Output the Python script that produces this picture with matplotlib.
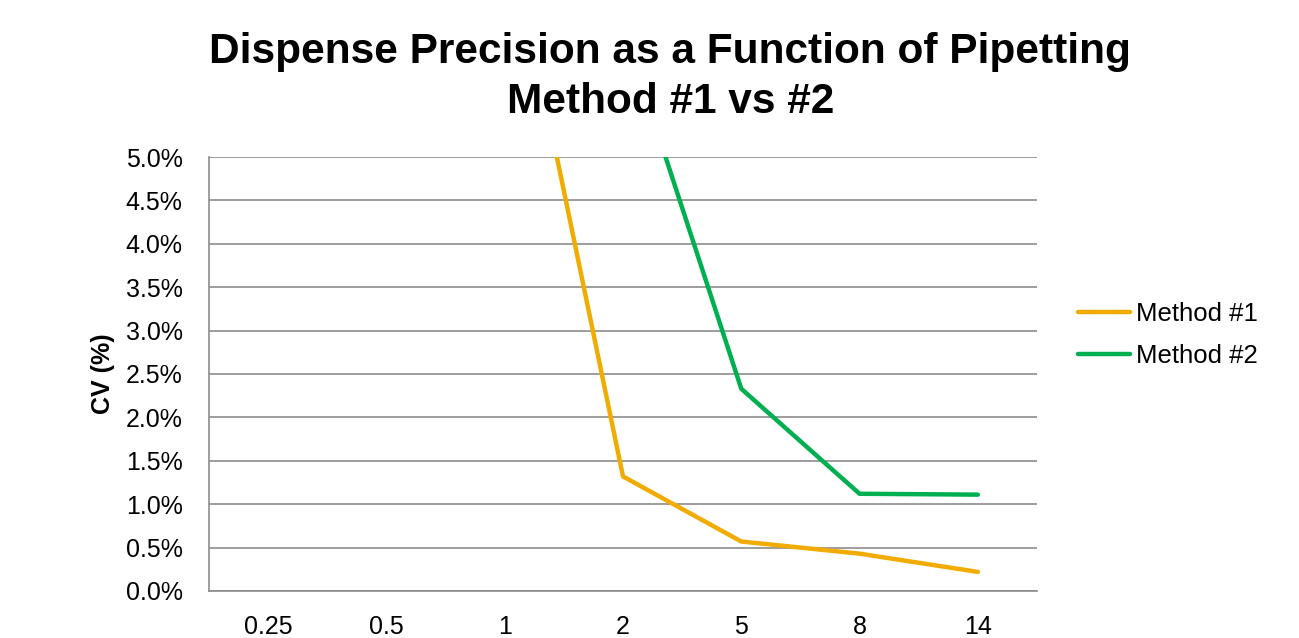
import numpy as np
import matplotlib.pyplot as plt
from matplotlib.ticker import FuncFormatter

# data (CV in percent); points above 5% run off the top of the chart
volumes = ['0.25', '0.5', '1', '2', '5', '8', '14']
method1_cv = [30.0, 18.0, 7.9, 1.32, 0.57, 0.43, 0.22]
method2_cv = [40.0, 25.0, 12.0, 6.5, 2.33, 1.12, 1.11]
y_ticks = np.arange(0, 5.01, 0.5)

plt.rcParams['font.family'] = ['Liberation Sans', 'DejaVu Sans']

fig = plt.figure(figsize=(12.99, 6.38), dpi=100)
ax = fig.add_axes([0.1609, 0.0737, 0.6374, 0.6802])

x = np.arange(len(volumes))
ax.plot(x, method1_cv, color='#F2AB00', lw=3.2, label='Method #1',
        solid_capstyle='round', solid_joinstyle='round')
ax.plot(x, method2_cv, color='#00B050', lw=3.2, label='Method #2',
        solid_capstyle='round', solid_joinstyle='round')

ax.set_xlim(-0.5, len(volumes) - 0.5)
ax.set_ylim(0, 5.0)
ax.set_xticks(x)
ax.set_xticklabels(volumes)
ax.set_yticks(y_ticks)
ax.yaxis.set_major_formatter(FuncFormatter(lambda v, p: '{:.1f}%'.format(v)))
ax.tick_params(axis='both', length=0, labelsize=18, colors='black')
ax.tick_params(axis='x', pad=17)
ax.tick_params(axis='y', pad=19)

ax.grid(axis='y', color='#8C8C8C', lw=1.2)
ax.set_axisbelow(True)
for s in ['top', 'right']:
    ax.spines[s].set_visible(False)
for s in ['left', 'bottom']:
    ax.spines[s].set_color('#8C8C8C')
    ax.spines[s].set_linewidth(1.2)

ax.set_ylabel('CV (%)', fontsize=18, fontweight='bold', labelpad=8)

# two-line title
fig.text(0.516, 1 - 63 / 638, 'Dispense Precision as a Function of Pipetting',
         ha='center', va='baseline', fontsize=30.5, fontweight='bold')
fig.text(0.516, 1 - 113 / 638, 'Method #1 vs #2',
         ha='center', va='baseline', fontsize=30.5, fontweight='bold')

ax.legend(loc='center left', bbox_to_anchor=(1.049, 0.59), frameon=False,
          fontsize=18.5, handlelength=2.06, handletextpad=0.23, labelspacing=0.7,
          borderaxespad=0, borderpad=0)

fig.savefig('out.png', dpi=100)
